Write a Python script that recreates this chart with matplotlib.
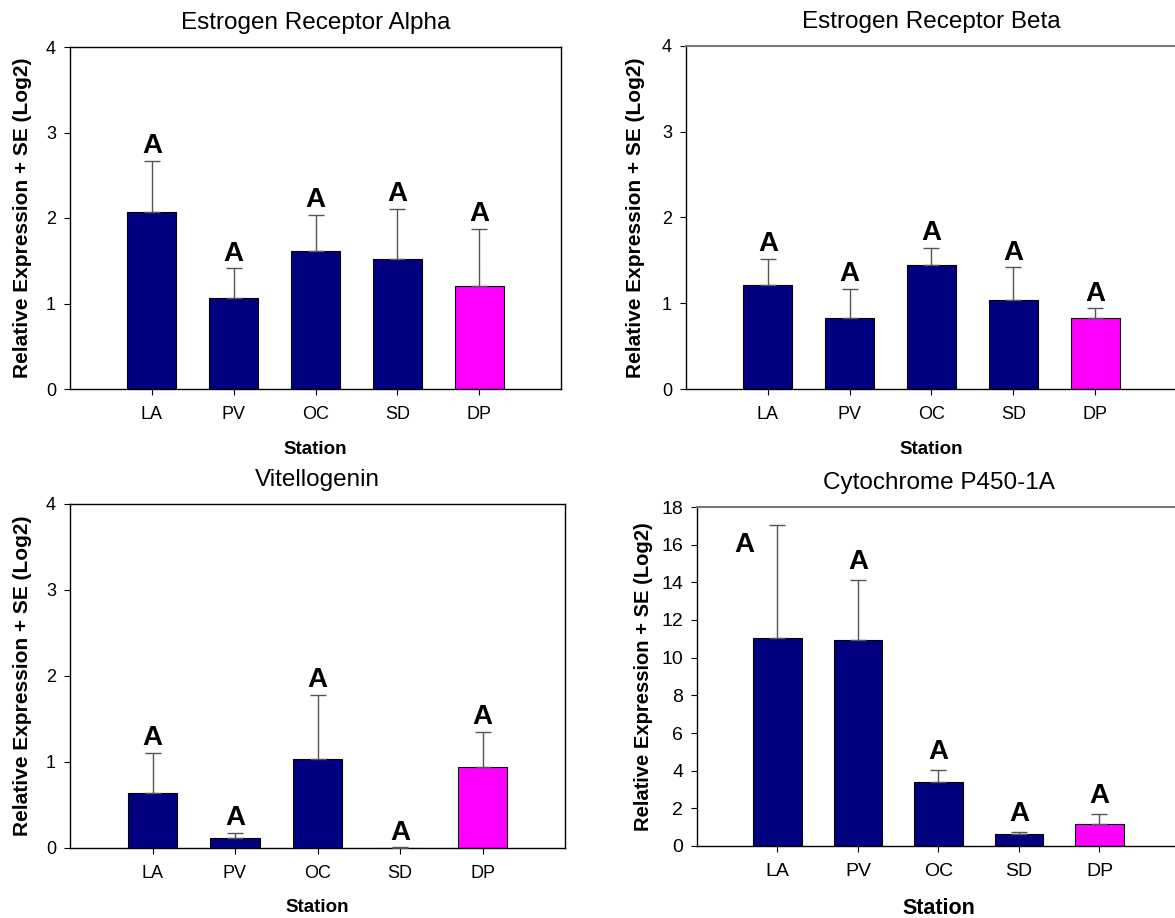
import numpy as np
import matplotlib
matplotlib.use("Agg")
import matplotlib.pyplot as plt

plt.rcParams['font.family'] = ['Liberation Sans', 'DejaVu Sans']

stations = ['LA', 'PV', 'OC', 'SD', 'DP']
letters = ['A', 'A', 'A', 'A', 'A']

era_mean = [2.07, 1.07, 1.61, 1.52, 1.21]
era_se = [0.60, 0.34, 0.43, 0.59, 0.66]

erb_mean = [1.21, 0.83, 1.45, 1.04, 0.83]
erb_se = [0.31, 0.34, 0.20, 0.38, 0.11]

vtg_mean = [0.64, 0.12, 1.04, 0.0, 0.94]
vtg_se = [0.47, 0.06, 0.74, 0.01, 0.41]

cyp_mean = [11.02, 10.92, 3.39, 0.64, 1.17]
cyp_se = [6.01, 3.20, 0.62, 0.10, 0.54]

bar_colors = ['#000080', '#000080', '#000080', '#000080', '#FF00FF']

W, H = 1175, 918
fig = plt.figure(figsize=(W / 100, H / 100), dpi=100)


def px_axes(left, top, right, bottom):
    return fig.add_axes([left / W, 1 - bottom / H, (right - left) / W, (bottom - top) / H])


def panel(ax, title, mean, se, ymax, ystep, lab_off, ylab_x, xlab_y,
          tick_fs=13, xlab_fs=13.5, ylab_fs=15, frame_gray=False, special=None):
    x = np.arange(1, len(stations) + 1)
    ax.bar(x, mean, width=0.6, color=bar_colors, edgecolor='black', linewidth=0.8, zorder=2)
    ax.errorbar(x, mean, yerr=[np.zeros(len(se)), se], fmt='none', ecolor='#555555',
                elinewidth=1, capsize=6, capthick=1, zorder=3)
    tops = np.array(mean) + np.array(se)
    for i, (xi, t, l) in enumerate(zip(x, tops, letters)):
        if special is not None and i in special:
            dx, yy = special[i]
            ax.text(xi + dx, yy, l, ha='center', va='baseline', fontsize=20, fontweight='bold')
        else:
            ax.annotate(l, (xi, t), xytext=(0, lab_off), textcoords='offset points',
                        ha='center', va='baseline', fontsize=20, fontweight='bold')
    ax.set_xlim(0, 6)
    ax.set_ylim(0, ymax)
    ax.set_yticks(np.arange(0, ymax + 0.1, ystep))
    ax.set_xticks(x)
    ax.set_xticklabels(stations)
    ax.tick_params(axis='x', length=4, pad=8, labelsize=tick_fs)
    ax.tick_params(axis='y', length=4, pad=6, labelsize=tick_fs)
    ax.set_title(title, fontsize=17.5, pad=13)
    ax.set_ylabel('Relative Expression + SE (Log2)', fontsize=ylab_fs, fontweight='bold')
    ax.yaxis.set_label_coords(ylab_x, 0.5)
    ax.set_xlabel('Station', fontsize=xlab_fs, fontweight='bold', va='top')
    ax.xaxis.set_label_coords(0.5, xlab_y)
    for s in ax.spines.values():
        s.set_linewidth(1)
        s.set_color('black')
    if frame_gray:
        ax.spines['top'].set_color('#777777')
        ax.spines['top'].set_linewidth(1.5)


ax1 = px_axes(70, 47, 561, 389)
panel(ax1, 'Estrogen Receptor Alpha', era_mean, era_se, 4, 1, 5.5, -38 / 491, -52 / 342)

ax2 = px_axes(686, 46, 1177, 389)
panel(ax2, 'Estrogen Receptor Beta', erb_mean, erb_se, 4, 1, 5.5, -41 / 491, -52 / 343,
      frame_gray=True)

ax3 = px_axes(70, 504, 565, 848)
panel(ax3, 'Vitellogenin', vtg_mean, vtg_se, 4, 1, 5.5, -38 / 495, -51 / 344)

ax4 = px_axes(697, 507, 1180, 846)
panel(ax4, 'Cytochrome P450-1A', cyp_mean, cyp_se, 18, 2, 8, -44 / 483, -52 / 339,
      tick_fs=14, xlab_fs=15.5, ylab_fs=14.5, frame_gray=True,
      special={0: (-0.41, 15.6)})

fig.savefig('out.png', dpi=100)
